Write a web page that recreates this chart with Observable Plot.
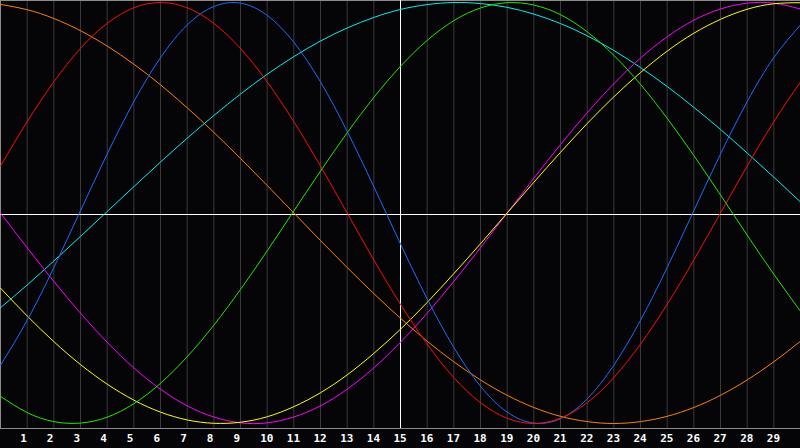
<!DOCTYPE html>
<html><head><meta charset="utf-8">
<script src="https://cdn.jsdelivr.net/npm/d3@7"></script>
<script src="https://cdn.jsdelivr.net/npm/@observablehq/plot@0.6"></script>
<style>
html,body{margin:0;padding:0;background:#050508;overflow:hidden;}
#chart svg{display:block;}
</style></head><body><div id="chart"></div>
<script>
// Day positions (0..30) and labelled days (1..29)
const days = [0,1,2,3,4,5,6,7,8,9,10,11,12,13,14,15,16,17,18,19,20,21,22,23,24,25,26,27,28,29,30];
const tickDays = [1,2,3,4,5,6,7,8,9,10,11,12,13,14,15,16,17,18,19,20,21,22,23,24,25,26,27,28,29];

// Values, one per day (-1 .. 1)
const orangeValues = [0.991,0.966,0.924,0.866,0.793,0.707,0.609,0.500,0.383,0.259,0.131,0.000,-0.131,-0.259,-0.383,-0.500,-0.609,-0.707,-0.793,-0.866,-0.924,-0.966,-0.991,-1.000,-0.991,-0.966,-0.924,-0.866,-0.793,-0.707,-0.609];
const cyanValues = [-0.450,-0.342,-0.228,-0.111,0.007,0.125,0.242,0.355,0.463,0.565,0.659,0.743,0.817,0.879,0.929,0.967,0.990,1.000,0.995,0.977,0.945,0.900,0.842,0.772,0.691,0.601,0.502,0.397,0.285,0.170,0.052];
const magentaValues = [0.000,-0.165,-0.325,-0.476,-0.614,-0.736,-0.837,-0.916,-0.969,-0.997,-0.997,-0.969,-0.916,-0.837,-0.736,-0.614,-0.476,-0.325,-0.165,0.000,0.165,0.325,0.476,0.614,0.736,0.837,0.916,0.969,0.997,0.997,0.969];
const yellowValues = [-0.357,-0.489,-0.611,-0.720,-0.813,-0.889,-0.946,-0.983,-0.999,-0.994,-0.968,-0.920,-0.854,-0.769,-0.667,-0.552,-0.425,-0.288,-0.146,0.000,0.146,0.288,0.425,0.552,0.667,0.769,0.854,0.920,0.968,0.994,0.999];
const greenValues = [-0.871,-0.948,-0.991,-0.998,-0.970,-0.906,-0.809,-0.683,-0.533,-0.363,-0.180,0.010,0.199,0.381,0.549,0.697,0.820,0.914,0.974,0.999,0.988,0.942,0.861,0.749,0.611,0.450,0.273,0.086,-0.105,-0.291,-0.467];
const blueValues = [-0.723,-0.510,-0.259,0.011,0.280,0.529,0.738,0.893,0.981,0.997,0.939,0.811,0.623,0.388,0.125,-0.147,-0.408,-0.639,-0.823,-0.946,-0.998,-0.977,-0.883,-0.723,-0.510,-0.259,0.011,0.280,0.529,0.738,0.893];
const redValues = [0.223,0.434,0.623,0.782,0.901,0.975,1.000,0.975,0.901,0.782,0.623,0.434,0.223,0.000,-0.223,-0.434,-0.623,-0.782,-0.901,-0.975,-1.000,-0.975,-0.901,-0.782,-0.623,-0.434,-0.223,0.000,0.223,0.434,0.623];

const seriesNames = ["orange","cyan","magenta","yellow","green","blue","red"];
const seriesColors = ["#ff8000","#00f0f0","#ff00ff","#ffff00","#22e800","#1a6cff","#ff0a0a"];
const seriesValues = [orangeValues,cyanValues,magentaValues,yellowValues,greenValues,blueValues,redValues];

const rows = seriesNames.flatMap((name, s) => days.map((d, i) => ({day: d, value: seriesValues[s][i], name})));

const chart = Plot.plot({
  width: 800, height: 448,
  marginTop: 0, marginLeft: 0, marginRight: 0, marginBottom: 20,
  style: {background: "#050508", color: "#ffffff", overflow: "visible"},
  x: {domain: [0, 30]},
  y: {domain: [-1, 1], range: [423, 2], axis: null},
  marks: [
    Plot.ruleX(tickDays, {stroke: "#3a3a3a"}),
    Plot.frame({stroke: "#8c8c8c"}),
    Plot.ruleY([0], {stroke: "#ffffff", dy: 1.5}),
    Plot.ruleX([15], {stroke: "#ffffff"}),
    ...seriesNames.map((name, s) => Plot.line(rows.filter(r => r.name === name), {
      x: "day", y: "value", stroke: seriesColors[s], strokeWidth: 1, curve: "natural"
    })),
    Plot.axisX(tickDays, {
      tickSize: 0, tickPadding: 6, textAnchor: "start", dx: -7,
      fontSize: 11, fontWeight: "bold", fontFamily: "DejaVu Sans Mono",
      fill: "#ffffff", label: null
    })
  ]
});
document.getElementById("chart").append(chart);
</script>
</body></html>
